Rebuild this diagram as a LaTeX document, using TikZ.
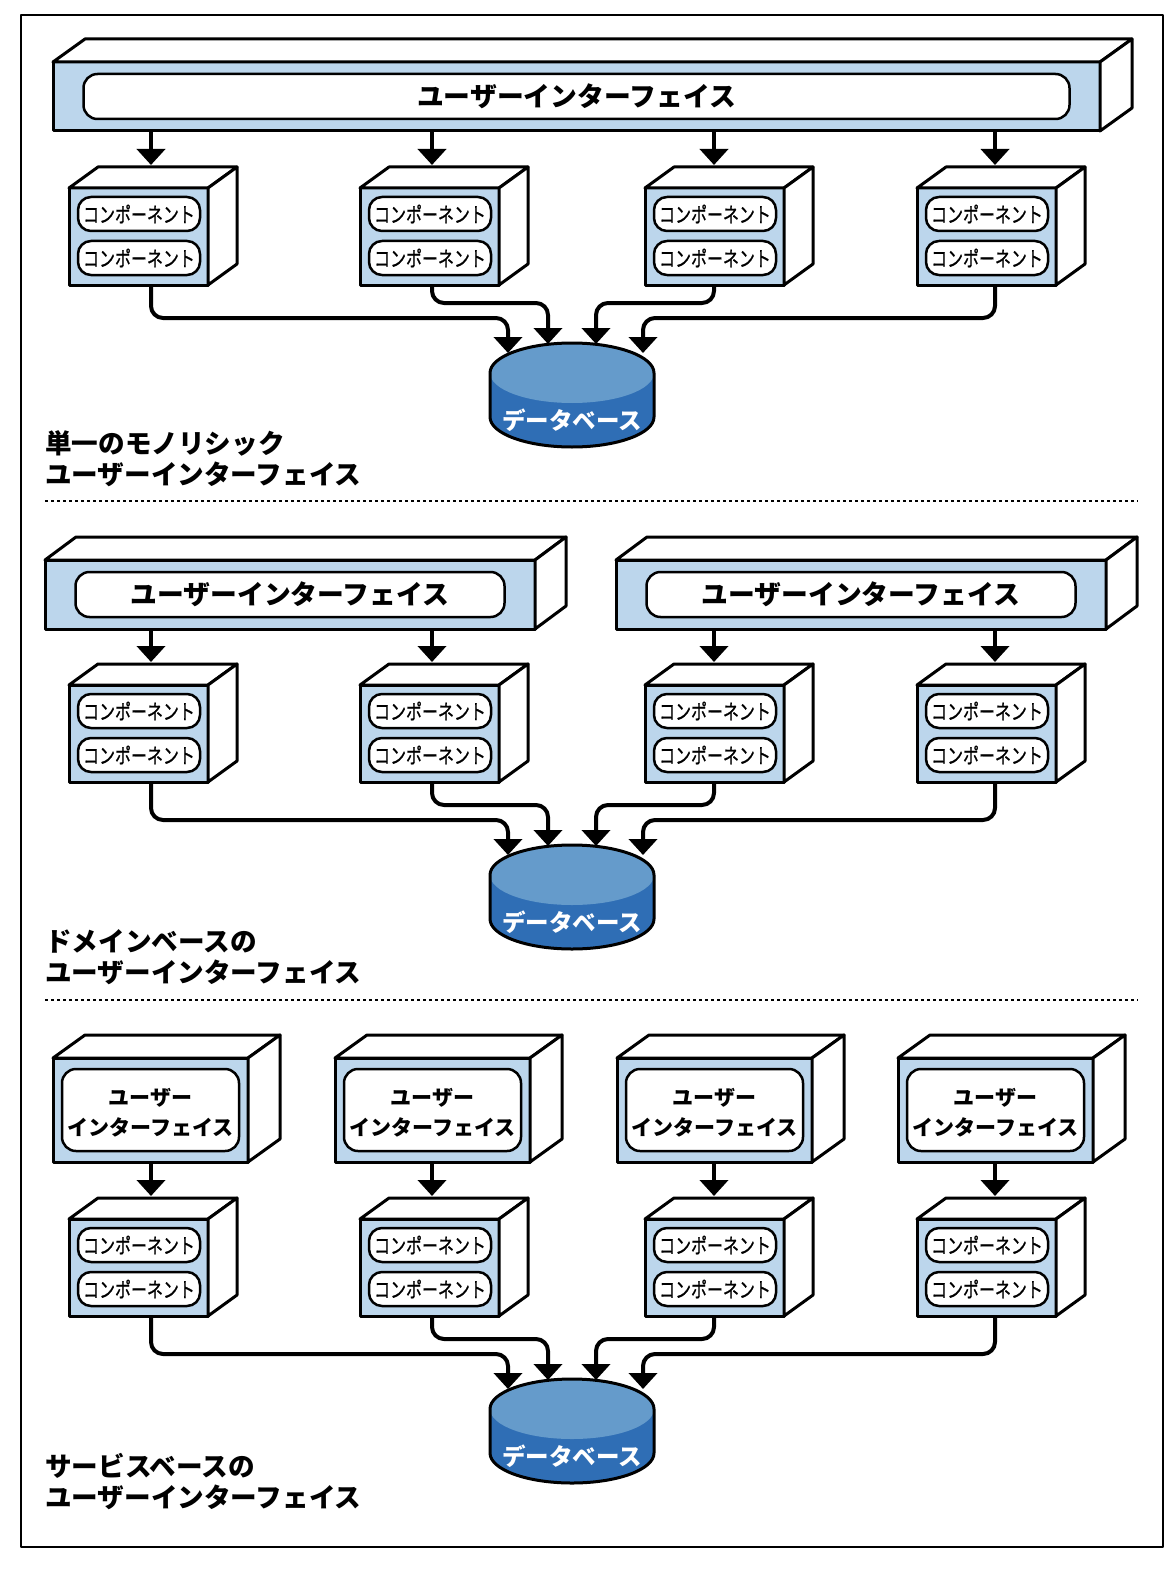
\documentclass[tikz,border=0pt]{standalone}
\usepackage{fontspec}
\setmainfont{Noto Sans CJK JP}
\newfontfamily\partfont{Noto Sans CJK JP}[FakeStretch=0.76, FakeBold=0.8]
\usetikzlibrary{arrows.meta}
\definecolor{uiblue}{RGB}{188,214,236}
\definecolor{dbtop}{RGB}{101,155,203}
\definecolor{dbside}{RGB}{47,110,181}
% top and right faces of a box whose front face is node #1
\newcommand{\boxsides}[3]{%
  \draw[side] (#1.north west) -- ++(#2,-#3) -- ([shift={(#2,-#3)}]#1.north east) -- (#1.north east) -- cycle;
  \draw[side] (#1.north east) -- ++(#2,-#3) -- ([shift={(#2,-#3)}]#1.south east) -- (#1.south east) -- cycle;}
\begin{document}
\begin{tikzpicture}[x=1pt, y=-1pt, line join=round,
  front/.style={draw, line width=3pt, fill=uiblue, anchor=north west, inner sep=0pt, outer sep=0pt},
  side/.style={draw, line width=3pt, fill=white},
  uilabel/.style={draw, line width=2.5pt, fill=white, rounded corners=14pt, inner sep=0pt, outer sep=0pt, align=center, font=\bfseries\fontsize{26.8}{30}\selectfont},
  part/.style={draw, line width=2.5pt, fill=white, rounded corners=13pt, minimum width=122pt, minimum height=34pt, inner sep=0pt, font=\partfont\fontsize{21}{22}\selectfont},
  flow/.style={line width=4pt, -{Triangle[width=28pt,length=16pt]}},
  sectiontitle/.style={anchor=west, align=left, inner sep=0pt, font=\bfseries\fontsize{26.6}{31}\selectfont},
  dbtext/.style={text=white, inner sep=0pt, font=\bfseries\fontsize{23.5}{26}\selectfont},
  separator/.style={line width=1.3pt, dash pattern=on 3pt off 3pt}]
  \useasboundingbox (0,0) rectangle (1172,1570);
  \draw[line width=2.5pt] (21,15) rectangle (1163,1547);

  % user interfaces
  \node[front, minimum width=1047pt, minimum height=69pt] (ui1f) at (53,62) {};
  \boxsides{ui1f}{32}{23}
  \node[uilabel, minimum width=986pt, minimum height=45pt] (ui1) at (ui1f.center) {ユーザーインターフェイス};

  \node[front, minimum width=490pt, minimum height=69pt] (ui2f) at (45,560) {};
  \boxsides{ui2f}{31}{23}
  \node[uilabel, minimum width=429pt, minimum height=45pt] (ui2) at (ui2f.center) {ユーザーインターフェイス};
  \node[front, minimum width=490pt, minimum height=69pt] (ui2g) at (616,560) {};
  \boxsides{ui2g}{31}{23}
  \node[uilabel, minimum width=429pt, minimum height=45pt] (ui2b) at (ui2g.center) {ユーザーインターフェイス};

  \foreach \i/\x in {1/53, 2/335, 3/617, 4/898} {
    \node[front, minimum width=195pt, minimum height=104pt] (f3\i) at (\x,1058) {};
    \boxsides{f3\i}{32}{23}
    \node[uilabel, minimum width=177pt, minimum height=82pt] (ui3\i) at (f3\i.center) {};
    \node[align=center, inner sep=0pt, font=\bfseries\fontsize{21}{30}\selectfont] (n3\i) at ([shift={(0,3)}]ui3\i.center) {ユーザー\\インターフェイス};
  }

  % components
  \foreach \s/\oy in {1/0, 2/497, 3/1031}
    \foreach \i/\x/\ax in {1/69/151, 2/360/432, 3/645/714, 4/917/995} {
      \node[front, minimum width=139pt, minimum height=97pt] (c\s\i) at (\x,188+\oy) {};
      \boxsides{c\s\i}{29}{21}
      \node[part] (p\s\i a) at ([shift={(70,26)}]c\s\i.north west) {コンポーネント};
      \node[part] (p\s\i b) at ([shift={(70,70)}]c\s\i.north west) {コンポーネント};
      \coordinate (t\s\i) at (\ax,165+\oy);
    }

  \foreach \i in {1,...,4}
    \draw[flow] (ui1f.south -| t1\i) -- (t1\i);
  \foreach \i/\u in {1/ui2f, 2/ui2f, 3/ui2g, 4/ui2g}
    \draw[flow] (\u.south -| t2\i) -- (t2\i);
  \foreach \i in {1,...,4}
    \draw[flow] (f3\i.south -| t3\i) -- (t3\i);

  % databases
  \foreach \s/\oy in {1/0, 2/502, 3/1036} {
    \fill[dbside] (490,373+\oy) -- (490,417+\oy) arc[start angle=180, end angle=0, x radius=82, y radius=30]
      -- (654,373+\oy) arc[start angle=0, end angle=-180, x radius=82, y radius=30] -- cycle;
    \fill[dbtop] (572,373+\oy) ellipse[x radius=82, y radius=30];
    \draw[line width=3pt] (490,373+\oy) -- (490,417+\oy) arc[start angle=180, end angle=0, x radius=82, y radius=30]
      -- (654,373+\oy) arc[start angle=0, end angle=-180, x radius=82, y radius=30] -- cycle;
    \node[dbtext] (db\s) at (572,420+\oy) {データベース};
    \coordinate (d\s1) at (508,353+\oy);
    \coordinate (d\s2) at (548,344+\oy);
    \coordinate (d\s3) at (596,344+\oy);
    \coordinate (d\s4) at (643,353+\oy);
    \coordinate (h\s1) at (508,318+\oy);
    \coordinate (h\s2) at (548,303+\oy);
    \coordinate (h\s3) at (596,303+\oy);
    \coordinate (h\s4) at (643,318+\oy);
  }

  \foreach \s in {1,2,3}
    \foreach \i in {1,...,4}
      \draw[flow, rounded corners=12pt] (c\s\i.south -| t\s\i) |- (h\s\i) -- (d\s\i);

  % section titles
  \node[sectiontitle] (s1) at (45,459) {単一のモノリシック\\ユーザーインターフェイス};
  \node[sectiontitle] (s2) at (45,957) {ドメインベースの\\ユーザーインターフェイス};
  \node[sectiontitle] (s3) at (45,1482) {サービスベースの\\ユーザーインターフェイス};
  \draw[separator] (45,501) -- (1138,501);
  \draw[separator] (45,1000) -- (1138,1000);
\end{tikzpicture}
\end{document}
